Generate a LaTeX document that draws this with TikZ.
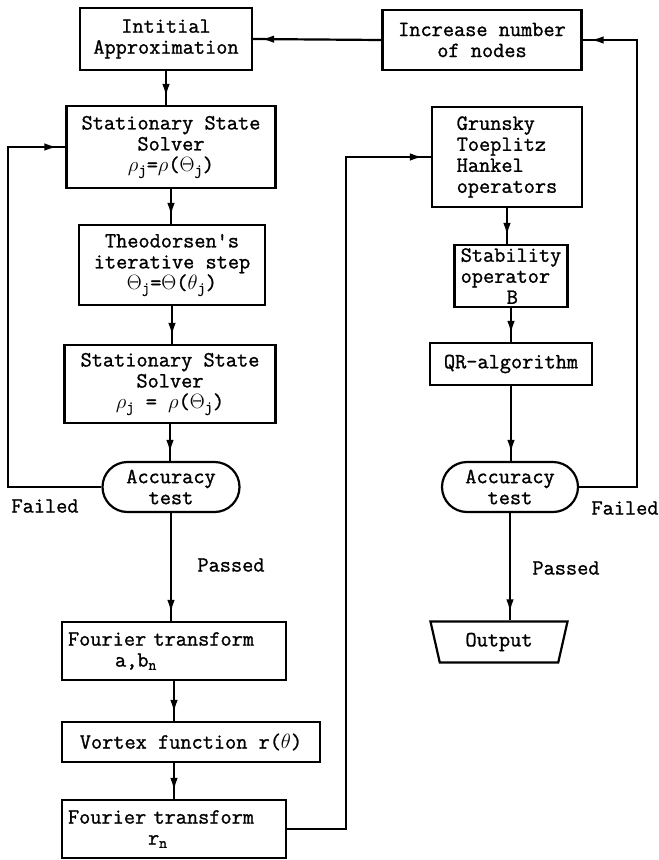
\documentclass[tikz,border=0pt]{standalone}
\usepackage{fontspec}
\newfontfamily\typer{Latin Modern Mono}[FakeBold=1.2]
\usetikzlibrary{arrows.meta}
\usetikzlibrary{shapes.misc}
\usetikzlibrary{shapes.geometric}
\usetikzlibrary{decorations.markings}
\newcommand{\sub}[1]{\textsubscript{#1}}

\begin{document}
\begin{tikzpicture}[x=1pt, y=-1pt, line width=2.2pt,
  every node/.style={font=\typer\fontsize{21.7pt}{21pt}\selectfont, inner sep=0pt},
  box/.style={draw, align=center},
  test/.style={draw, rounded rectangle, minimum width=137pt, minimum height=50pt, align=center},
  flow/.style={decoration={markings, mark=at position -8pt with {\arrow{Latex[length=13pt,width=7.5pt]}}}, postaction={decorate}}]

\useasboundingbox (0,0) rectangle (659,860);

\node[box, minimum width=172pt, minimum height=62pt] (init) at (166,39) {Intitial\\Approximation};
\node[box, minimum width=199pt, minimum height=60pt] (incr) at (482,40) {Increase number\\of nodes};
\node[box, minimum width=209pt, minimum height=82pt] (ss1) at (171,147) {Stationary State\\Solver\\$\rho$\sub{j}=$\rho$($\Theta$\sub{j})};
\node[box, minimum width=186pt, minimum height=80pt] (theo) at (172,265) {Theodorsen's\\iterative step\\$\Theta$\sub{j}=$\Theta$($\theta$\sub{j})};
\node[box, minimum width=211pt, minimum height=78pt] (ss2) at (170,384) {Stationary State\\Solver\\$\rho$\sub{j} = $\rho$($\Theta$\sub{j})};
\node[test] (acc1) at (171,487) {Accuracy\\test};
\node[box, align=left, text width=212pt, minimum width=224pt, minimum height=58pt] (four1) at (174,651) {Fourier transform\\\hspace*{47pt}a,b\sub{n}};
\node[box, minimum width=258pt, minimum height=40pt] (vort) at (191,742) {Vortex function r($\theta$)};
\node[box, align=left, text width=212pt, minimum width=224pt, minimum height=58pt] (four2) at (174,829) {Fourier transform\\\hspace*{80pt}r\sub{n}};

\node[box, align=left, minimum width=150pt, minimum height=100pt] (gth) at (507,157) {Grunsky\\Toeplitz\\Hankel\\operators};
\node[box, align=left, minimum width=113pt, minimum height=62pt] (stab) at (511,276) {Stability\\operator\\\hspace*{46pt}B};
\node[box, minimum width=162pt, minimum height=42pt] (qr) at (511,364) {QR-algorithm};
\node[test, minimum width=136pt] (acc2) at (510,487) {Accuracy\\test};
\node[draw, trapezium, trapezium stretches=true, shape border rotate=180, trapezium left angle=74, trapezium right angle=74, minimum width=138pt, minimum height=41pt] (out) at (499,642) {Output};

\node (fail1) at (45,506) {Failed};
\node (pass1) at (231,565) {Passed};
\node (fail2) at (625,508) {Failed};
\node (pass2) at (566,568) {Passed};

\coordinate (lback) at (8,0);
\coordinate (rback) at (637,0);
\coordinate (mid) at (346,0);

\draw[flow] (incr.west) -- (init.east);
\draw[flow] (init.south) -- (init.south |- ss1.north);
\draw[flow] (ss1.south) -- (ss1.south |- theo.north);
\draw[flow] (theo.south) -- (theo.south |- ss2.north);
\draw[flow] (ss2.south) -- (ss2.south |- acc1.north);
\draw[flow] (acc1.south) -- (acc1.south |- four1.north);
\draw[flow] (four1.south) -- (four1.south |- vort.north);
\draw[flow] (four1.south |- vort.south) -- (four1.south |- four2.north);
\draw[flow] (acc1.west) -- (acc1.west -| lback) -- (ss1.west -| lback) -- (ss1.west);
\draw[flow] (four2.east) -- (four2.east -| mid) -- (gth.west -| mid) -- (gth.west);

\draw[flow] (gth.south) -- (gth.south |- stab.north);
\draw[flow] (stab.south) -- (stab.south |- qr.north);
\draw[flow] (qr.south) -- (qr.south |- acc2.north);
\draw[flow] (acc2.south) -- (acc2.south |- out.north);
\draw[flow] (acc2.east) -- (acc2.east -| rback) -- (incr.east -| rback) -- (incr.east);

\end{tikzpicture}
\end{document}
